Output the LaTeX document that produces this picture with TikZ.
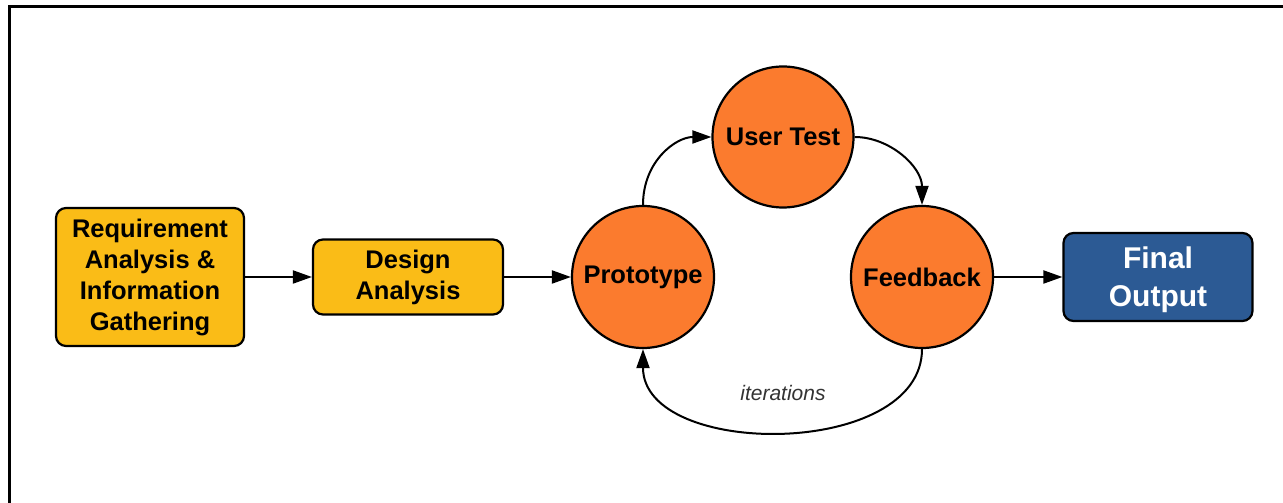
\documentclass[tikz,border=0pt]{standalone}
\usepackage{fontspec}
\setmainfont{Liberation Sans}
\usetikzlibrary{arrows.meta}
\definecolor{boxyellow}{HTML}{FABC17}
\definecolor{nodeorange}{HTML}{FB7B2E}
\definecolor{finalblue}{HTML}{2C5A94}
\tikzset{
  rbox/.style={draw=black, line width=2.2pt, rounded corners=10pt, fill=boxyellow, align=center, inner sep=0pt,
    font=\fontsize{25.5}{31}\selectfont\bfseries},
  circ/.style={draw=black, line width=2.2pt, circle, fill=nodeorange, inner sep=0pt,
    font=\fontsize{25.5}{31}\selectfont\bfseries},
  conn/.style={line width=2pt, -{Triangle[length=19pt,width=13pt]}},
}
\begin{document}
\begin{tikzpicture}[x=1pt,y=1pt]
\useasboundingbox (0,0) rectangle (1283,503);
\draw[line width=3.5pt] (9.5,0) -- (9.5,496.5) -- (1283,496.5);
\node[rbox, minimum width=188pt, minimum height=138pt] (req) at (150,226) {Requirement\\Analysis \&\\Information\\Gathering};
\node[rbox, minimum width=190pt, minimum height=75pt] (des) at (408,226) {Design\\Analysis};
\node[circ, minimum size=142pt] (proto) at (643,226) {Prototype};
\node[circ, minimum size=141pt] (user) at (783,366) {User Test};
\node[circ, minimum size=142pt] (feed) at (922,226) {Feedback};
\node[rbox, fill=finalblue, text=white, minimum width=189pt, minimum height=88pt,
  font=\fontsize{30}{38}\selectfont\bfseries] (final) at (1158,226) {\rule{0pt}{28pt}Final\\Output};
\draw[conn] (req.east) -- (des.west);
\draw[conn] (des.east) -- (proto.west);
\draw[conn] (feed.east) -- (final.west);
\draw[conn] (proto.north) .. controls (643,342) and (676,366) .. (user.west);
\draw[conn] (user.east) .. controls (890,366) and (922,336) .. (feed.north);
\draw[conn] (feed.south) .. controls (922,44) and (643,44) .. (proto.south);
\node[font=\fontsize{21}{25}\selectfont\itshape, text=black!80] (iter) at (783,110) {iterations};
\end{tikzpicture}
\end{document}
